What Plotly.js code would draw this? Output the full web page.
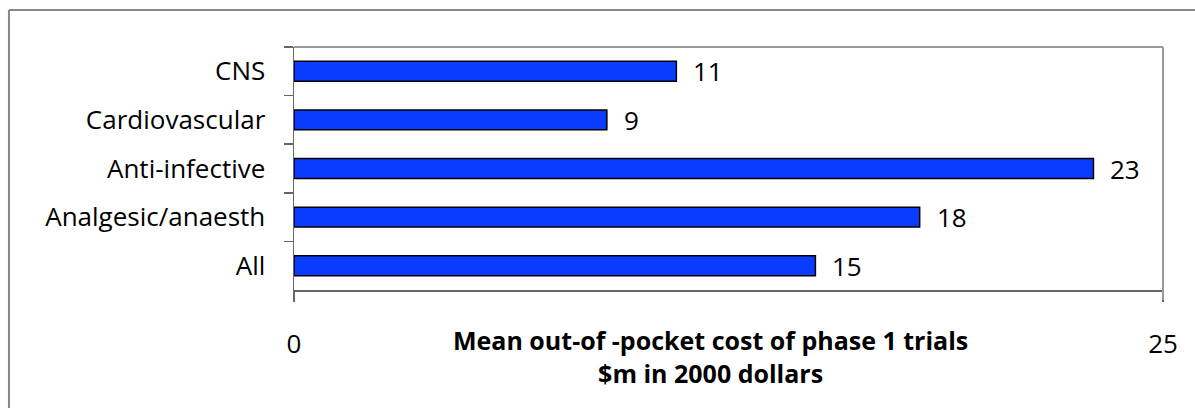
<!DOCTYPE html>
<html>
<head>
<meta charset="utf-8">
<script src="https://cdn.plot.ly/plotly-3.0.1.min.js"></script>
<style>
html,body{margin:0;padding:0;background:#fff;}
#chart{width:1195px;height:408px;}
</style>
</head>
<body>
<div id="chart"></div>
<script>
const categories = ["CNS", "Cardiovascular", "Anti-infective", "Analgesic/anaesth", "All"];
const values = [11, 9, 23, 18, 15];
const xTickValues = [0, 25];
const xTickLabels = ["0", "25"];
const axisTitleLines = ["Mean out-of -pocket cost of phase 1 trials", "$m in 2000 dollars"];

const FONT = "'Open Sans', Lato, sans-serif";
const FS = 26;

const trace = {
  type: "bar",
  orientation: "h",
  x: values,
  y: categories,
  marker: {color: "#0a3cff", line: {color: "#000", width: 1.5}},
  hoverinfo: "x+y"
};

const labelAnnotations = values.map((v, i) => ({
  x: v, y: categories[i], xref: "x", yref: "y",
  text: String(v), showarrow: false,
  xanchor: "left", xshift: 15,
  font: {family: FONT, size: FS, color: "#000"}
}));

const layout = {
  width: 1195, height: 408,
  margin: {l: 294, r: 32, t: 47, b: 118},
  paper_bgcolor: "#fff", plot_bgcolor: "#fff",
  showlegend: false,
  bargap: 0.59,
  font: {family: FONT, size: FS, color: "#000"},
  xaxis: {
    range: [0, 25], tickvals: xTickValues, ticktext: xTickLabels,
    ticks: "outside", ticklen: 10, tickwidth: 1.5, tickcolor: "#666",
    showline: true, linecolor: "#666", linewidth: 1.5,
    showgrid: false, zeroline: false,
    ticklabelstandoff: 20,
    tickfont: {family: FONT, size: FS, color: "#000"},
    fixedrange: true
  },
  yaxis: {
    type: "category", autorange: "reversed",
    ticks: "outside", tickson: "boundaries", ticklen: 9, tickwidth: 1.5, tickcolor: "#666",
    showline: true, linecolor: "#666", linewidth: 1.5,
    showgrid: false, zeroline: false,
    ticklabelstandoff: 22,
    tickfont: {family: FONT, size: FS, color: "#000"},
    fixedrange: true
  },
  shapes: [
    {type: "line", xref: "paper", yref: "paper", x0: 0, x1: 1, y0: 1, y1: 1,
     line: {color: "#999", width: 2}},
    {type: "line", xref: "paper", yref: "paper", x0: 1, x1: 1, y0: 1, y1: -0.04,
     line: {color: "#999", width: 2}},
    {type: "line", xref: "paper", yref: "paper", x0: -0.328, x1: 1.2, y0: 1.152, y1: 1.152,
     line: {color: "#888", width: 2}},
    {type: "line", xref: "paper", yref: "paper", x0: -0.328, x1: -0.328, y0: 1.152, y1: -1,
     line: {color: "#888", width: 2}}
  ],
  annotations: labelAnnotations.concat([
    {xref: "paper", yref: "paper", x: 0.479, y: -0.274, xanchor: "center", yanchor: "middle",
     showarrow: false, align: "center",
     text: "<b>" + axisTitleLines.join("<br>") + "</b>",
     font: {family: FONT, size: 25, color: "#000"}}
  ])
};

Plotly.newPlot("chart", [trace], layout, {displayModeBar: false, staticPlot: true});
</script>
</body>
</html>
